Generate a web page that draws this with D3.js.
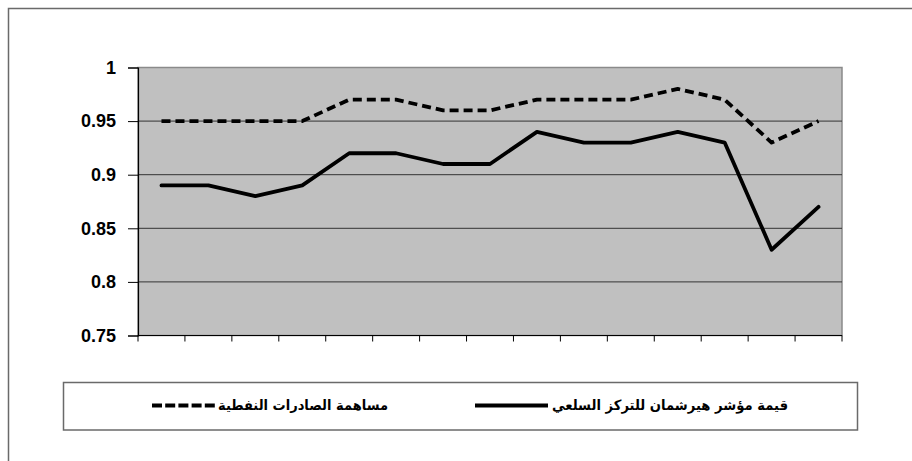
<!DOCTYPE html>
<html><head><meta charset="utf-8">
<script src="https://cdn.jsdelivr.net/npm/d3@7"></script>
<style>body{margin:0;background:#fff}svg{display:block}</style>
</head><body>
<script>
const categories = d3.range(1, 16).map(String);
const oilShare = [0.95,0.95,0.95,0.95,0.97,0.97,0.96,0.96,0.97,0.97,0.97,0.98,0.97,0.93,0.95];
const herfindahl = [0.89,0.89,0.88,0.89,0.92,0.92,0.91,0.91,0.94,0.93,0.93,0.94,0.93,0.83,0.87];
const yTicks = [0.75,0.8,0.85,0.9,0.95,1];
const yTickLabels = ["0.75","0.8","0.85","0.9","0.95","1"];
const seriesNames = ["مساهمة الصادرات النفطية","قيمة مؤشر هيرشمان للتركز السلعي"];

const W=912,H=461;
const font="'Liberation Sans', Arial, sans-serif";
const arFont="'DejaVu Sans', sans-serif";
const svg=d3.select("body").append("svg").attr("width",W).attr("height",H);
svg.append("rect").attr("x",8.5).attr("y",8.5).attr("width",W+10).attr("height",H+10)
  .attr("fill","#fff").attr("stroke","#6a6a6a").attr("stroke-width",1.5);

const L=138,R=842,T=67.5,B=335.5;
const x=d3.scaleBand().domain(categories).range([L,R]);
const y=d3.scaleLinear().domain([0.75,1]).range([B,T]);

svg.append("rect").attr("x",L).attr("y",T).attr("width",R-L).attr("height",B-T)
  .attr("fill","#c0c0c0").attr("stroke","#8a8a8a").attr("stroke-width",1.5);

svg.append("g").selectAll("line").data(yTicks.slice(1,5)).join("line")
  .attr("x1",L).attr("x2",R).attr("y1",d=>y(d)).attr("y2",d=>y(d))
  .attr("stroke","#333").attr("stroke-width",1);

const ya=svg.append("g").attr("transform",`translate(${L},0)`)
  .call(d3.axisLeft(y).tickValues(yTicks).tickFormat((d,i)=>yTickLabels[i]).tickSize(10).tickPadding(12));
ya.select(".domain").attr("stroke","#000").attr("stroke-width",1.2);
ya.selectAll(".tick line").attr("stroke","#000");
ya.selectAll("text").style("font-family",font).style("font-weight","bold").style("font-size","18px").attr("fill","#000");

const xa=svg.append("g").attr("transform",`translate(0,${B})`);
xa.append("line").attr("x1",L).attr("x2",R).attr("y1",0).attr("y2",0).attr("stroke","#000").attr("stroke-width",1.2);
xa.selectAll("line.t").data(d3.range(categories.length+1)).join("line").attr("class","t")
  .attr("x1",i=>L+i*x.step()).attr("x2",i=>L+i*x.step()).attr("y1",0).attr("y2",6)
  .attr("stroke","#000").attr("stroke-width",1);

const line=d3.line().x((d,i)=>x(categories[i])+x.bandwidth()/2).y(d=>y(d));
svg.append("path").datum(oilShare).attr("d",line).attr("fill","none").attr("stroke","#000")
  .attr("stroke-width",3.8).attr("stroke-dasharray","9,5").attr("stroke-linejoin","round");
svg.append("path").datum(herfindahl).attr("d",line).attr("fill","none").attr("stroke","#000")
  .attr("stroke-width",3.8).attr("stroke-linejoin","round").attr("stroke-linecap","round");

svg.append("rect").attr("x",63.5).attr("y",382.5).attr("width",794).attr("height",47.5)
  .attr("fill","#fff").attr("stroke","#6a6a6a").attr("stroke-width",1.5);
const ly=405.5;
svg.append("text").attr("x",218).attr("y",ly).attr("dy","0.35em").attr("text-anchor","start")
  .attr("textLength",170).attr("lengthAdjust","spacingAndGlyphs")
  .style("font-family",arFont).style("font-weight","bold").style("font-size","14px").text(seriesNames[0]);
svg.append("line").attr("x1",152).attr("x2",215).attr("y1",ly).attr("y2",ly).attr("stroke","#000")
  .attr("stroke-width",3.8).attr("stroke-dasharray","10,3.2");
svg.append("text").attr("x",552).attr("y",ly).attr("dy","0.35em").attr("text-anchor","start")
  .attr("textLength",236).attr("lengthAdjust","spacingAndGlyphs")
  .style("font-family",arFont).style("font-weight","bold").style("font-size","14px").text(seriesNames[1]);
svg.append("line").attr("x1",475).attr("x2",548).attr("y1",ly).attr("y2",ly).attr("stroke","#000")
  .attr("stroke-width",3.8);
</script>
</body></html>
